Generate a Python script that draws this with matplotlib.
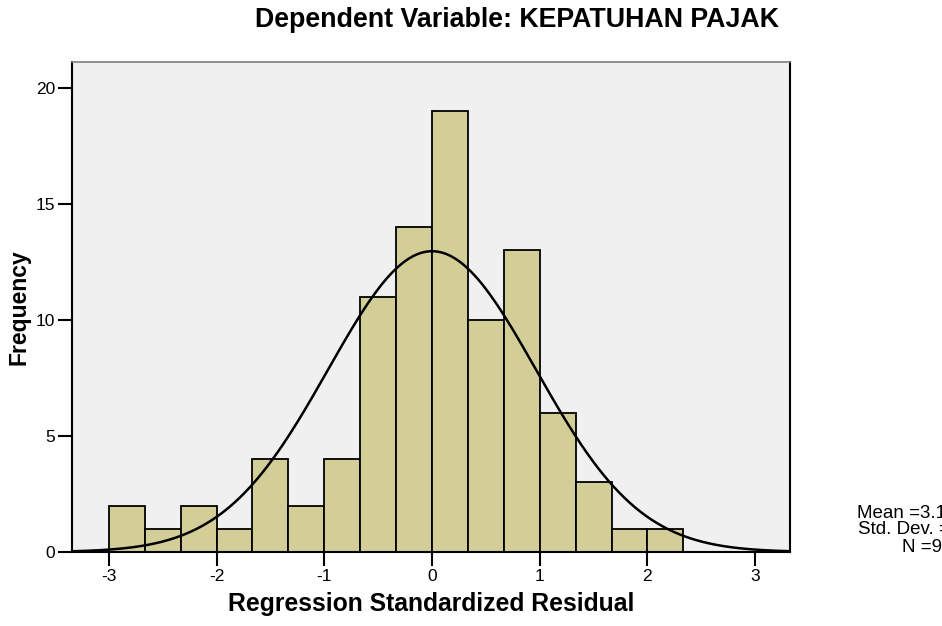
import numpy as np
import matplotlib.pyplot as plt

plt.rcParams["font.family"] = ["Liberation Sans", "DejaVu Sans"]
plt.rcParams["axes.unicode_minus"] = False

# ---------------------------
# DATA
# ---------------------------
bin_edges = [-3.0, -2.667, -2.333, -2.0, -1.667, -1.333, -1.0, -0.667, -0.333,
             0.0, 0.333, 0.667, 1.0, 1.333, 1.667, 2.0, 2.333]
counts = [2, 1, 2, 1, 4, 2, 4, 11, 14, 19, 10, 13, 6, 3, 1, 1]

mean_val = 0.0
std_val = 0.965
n_val = 94
stats_lines = ["Mean =3.15E-16", "Std. Dev. =0.984", "N =94"]

x_ticks = [-3, -2, -1, 0, 1, 2, 3]
y_ticks = [0, 5, 10, 15, 20]

# ---------------------------
# FIGURE
# ---------------------------
fig = plt.figure(figsize=(9.42, 6.26), dpi=100)
ax = fig.add_axes([72 / 942, 1 - 552 / 626, (790 - 72) / 942, (552 - 62) / 626])
ax.set_facecolor("#F0F0F0")

lefts = bin_edges[:-1]
widths = np.diff(bin_edges)
ax.bar(lefts, counts, width=widths, align="edge", color="#D3CE97",
       edgecolor="black", linewidth=1.3, zorder=2)

# fitted normal curve
bw = widths.mean()
xs = np.linspace(-3.34, 3.33, 400)
ys = n_val * bw / (std_val * np.sqrt(2 * np.pi)) * np.exp(-0.5 * ((xs - mean_val) / std_val) ** 2)
ax.plot(xs, ys, color="black", linewidth=1.8, zorder=3)

ax.set_xlim(-3.343, 3.324)
ax.set_ylim(0, 21.1)
ax.set_xticks(x_ticks)
ax.set_yticks(y_ticks)
ax.tick_params(direction="out", length=10, width=1.5, labelsize=12.5, pad=2)

for s in ["left", "bottom", "right"]:
    ax.spines[s].set_linewidth(1.5)
    ax.spines[s].set_color("black")
ax.spines["top"].set_color("#7F7F7F")
ax.spines["top"].set_linewidth(1.2)

ax.set_xlabel("Regression Standardized Residual", fontsize=17.8,
              fontweight="bold", labelpad=6)
ax.set_ylabel("Frequency", fontsize=16.5, fontweight="bold", labelpad=4)

fig.text(517 / 942, 1 - 20 / 626, "Dependent Variable: KEPATUHAN PAJAK",
         ha="center", va="center", fontsize=19.3, fontweight="bold")

fig.text(927 / 942, 1 - 530 / 626, "\n".join(stats_lines), ha="center",
         va="center", fontsize=13.5, linespacing=1.0)

fig.savefig("out.png", dpi=100)
